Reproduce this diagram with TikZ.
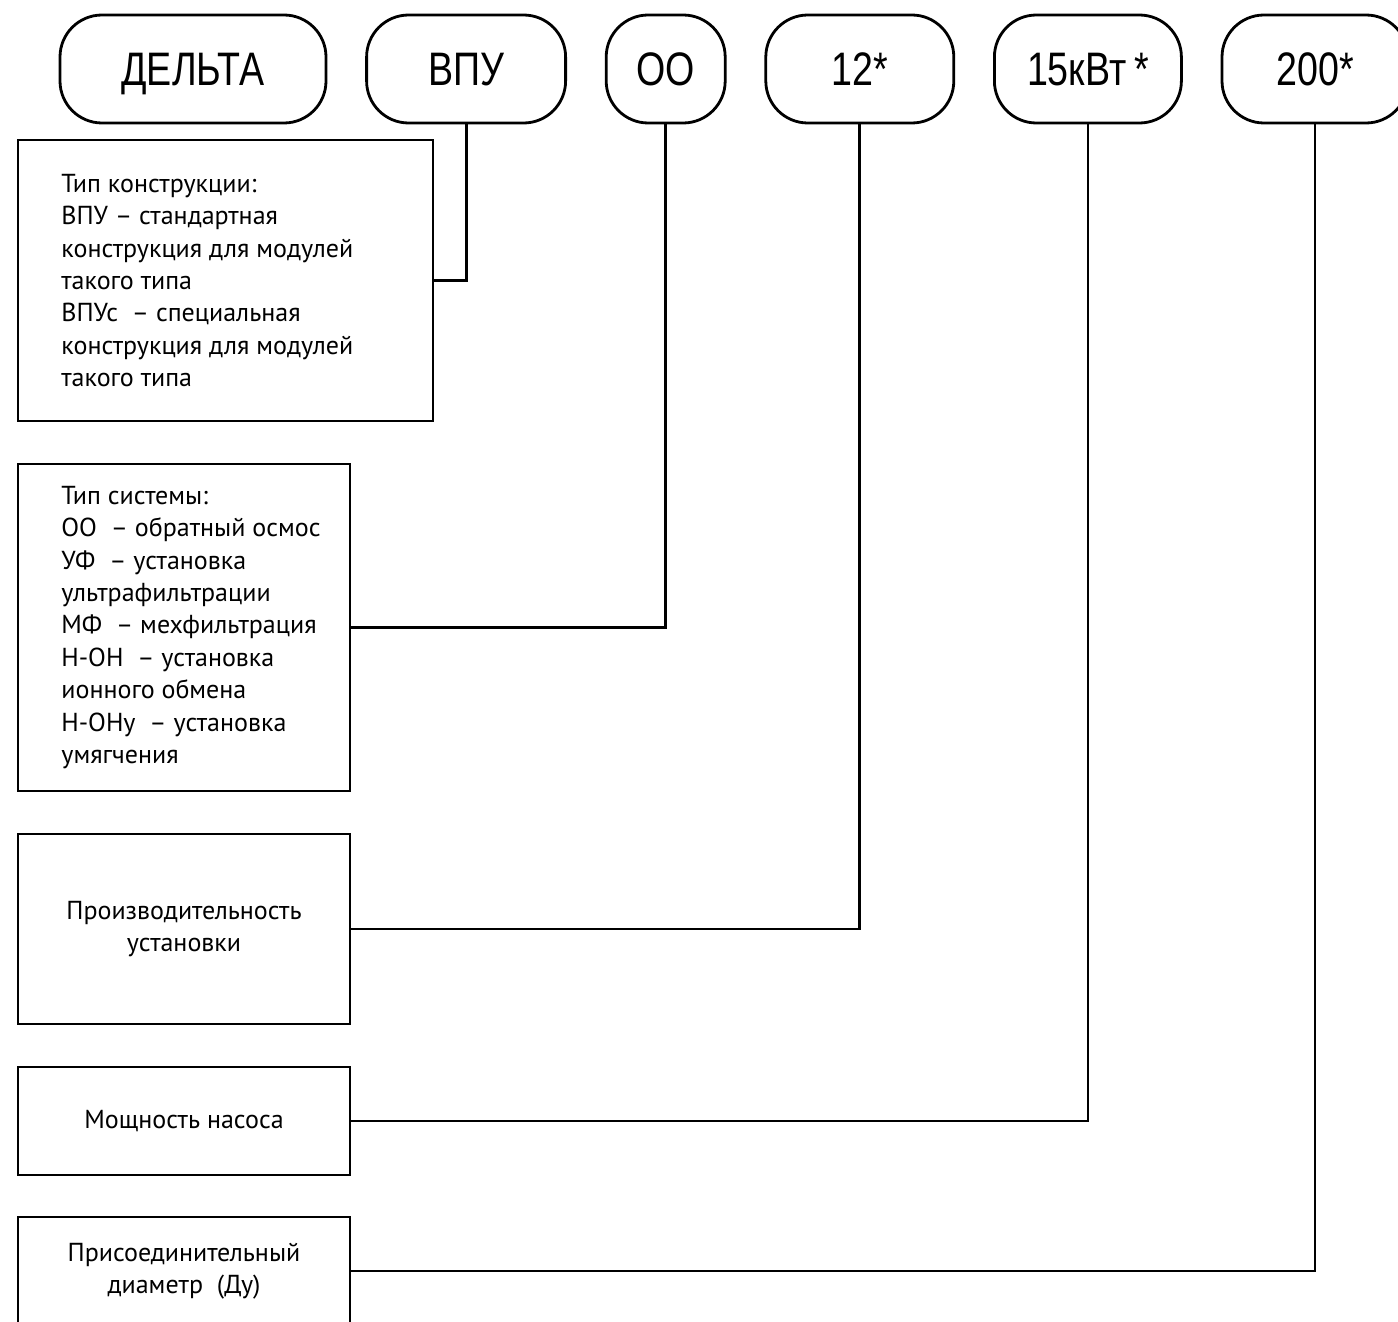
\documentclass[tikz,border=0pt]{standalone}
\usepackage{fontspec}
\setmainfont{PT Sans}
\newfontfamily\codefont[FakeStretch=0.8]{Liberation Sans}
\usetikzlibrary{positioning}

\begin{document}
\begin{tikzpicture}[x=0.5pt, y=-0.5pt, node distance = 20.3pt, line width=1.4pt,
	code/.style={draw, rounded corners=21pt, minimum height=54pt, inner sep=0pt, outer sep=0pt,
		text height=17pt, text depth=0pt, font=\codefont\fontsize{23.5}{28}\selectfont},
	descr/.style={draw, rectangle, minimum width=166pt, inner sep=0pt, outer sep=0pt, align=center,
		font=\fontsize{13}{16.2}\selectfont},
	lst/.style={inner sep=0pt, align=left, anchor=west, font=\fontsize{13}{16.2}\selectfont}]
			\useasboundingbox (0,0) rectangle (1398,1322);
			
			% code parts
			\node[code, minimum width=133pt] (delta) at (193,69) {ДЕЛЬТА};
			\node[code, minimum width=99.5pt, right = of delta] (vpu) {ВПУ};
			\node[code, minimum width=59.5pt, right = of vpu] (oo) {ОО};
			\node[code, minimum width=94pt, right = of oo] (prod) {12*};
			\node[code, minimum width=93.5pt, right = of prod] (kw) {15кВт\,*};
			\node[code, minimum width=93pt, right = of kw] (dn) {200*};
			
			% descriptions
			\node[descr, minimum width=207.5pt, minimum height=140.5pt] (b1) at (225.5,280.5) {};
			\node[lst] (t1) at ([xshift=21pt]b1.west) {Тип конструкции:\\
				ВПУ -- стандартная\\
				конструкция для модулей\\
				такого типа\\
				ВПУс~ -- специальная\\
				конструкция для модулей\\
				такого типа};
			\node[descr, minimum height=163.5pt, below = 21.5pt of b1.south west, anchor=north west] (b2) {};
			\node[lst] (t2) at ([xshift=21pt]b2.west) {Тип системы:\\
				ОО~ -- обратный осмос\\
				УФ~ -- установка\\
				ультрафильтрации\\
				МФ~ -- мехфильтрация\\
				Н-ОН~ -- установка\\
				ионного обмена\\
				Н-ОНу~ -- установка\\
				умягчения};
			\node[descr, minimum height=95pt, below = 21.5pt of b2] (b3) {Производительность\\установки};
			\node[descr, minimum height=54pt, below = 21.5pt of b3] (b4) {Мощность насоса};
			\node[descr, minimum height=54pt, below = 21pt of b4] (b5) {Присоединительный\\диаметр~ (Ду)};
			
			\draw (vpu.south) |- (b1.east);
			\draw (oo.south) |- (b2.east);
			\draw (prod.south) |- (b3.east);
			\draw (kw.south) |- (b4.east);
			\draw (dn.south) |- (b5.east);
		\end{tikzpicture}
\end{document}
